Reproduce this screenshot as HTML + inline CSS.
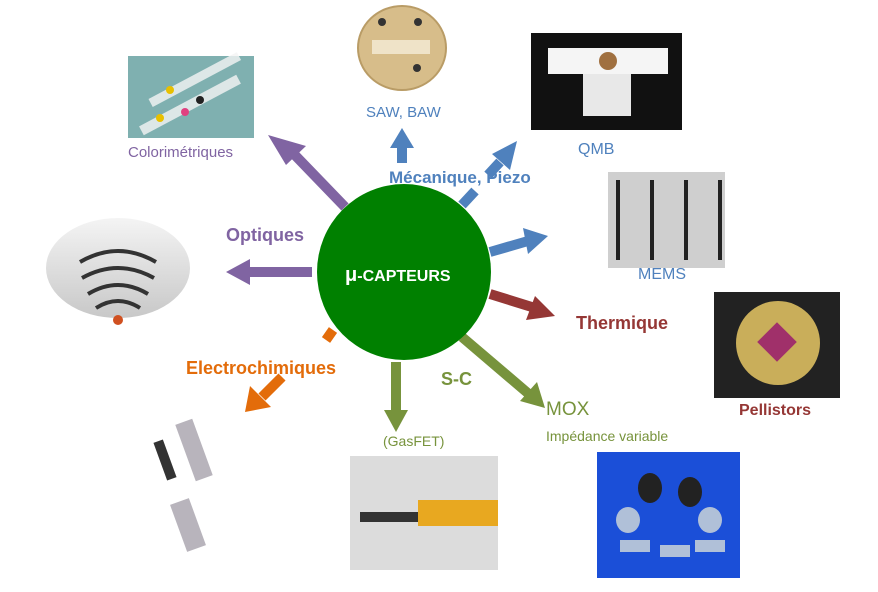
<!DOCTYPE html>
<html><head><meta charset="utf-8"><style>
body{margin:0;width:878px;height:592px;background:#fff;overflow:hidden;position:relative;font-family:"Liberation Sans","DejaVu Sans",sans-serif}
.t{position:absolute;white-space:nowrap;line-height:1}
.b{font-weight:bold}
</style></head><body>
<svg width="878" height="592" style="position:absolute;left:0;top:0">
<defs>
<linearGradient id="dome" x1="0" y1="0" x2="0" y2="1"><stop offset="0" stop-color="#f4f4f4"/><stop offset="1" stop-color="#c8c8c8"/></linearGradient>
</defs>
<rect x="128" y="56" width="126" height="82" fill="#7fb0b0"/>
<g fill="#f5f5f5" opacity=".8"><rect x="135" y="100" width="110" height="10" transform="rotate(-28 190 105)"/><rect x="145" y="75" width="100" height="9" transform="rotate(-28 195 80)"/></g>
<circle cx="160" cy="118" r="4" fill="#e8c000"/><circle cx="185" cy="112" r="4" fill="#e04080"/><circle cx="200" cy="100" r="4" fill="#222"/><circle cx="170" cy="90" r="4" fill="#e8c000"/>
<ellipse cx="402" cy="48" rx="44" ry="42" fill="#d7bd8a" stroke="#b99c66" stroke-width="2"/>
<rect x="372" y="40" width="58" height="14" fill="#efe3c8"/>
<circle cx="382" cy="22" r="4" fill="#333"/><circle cx="418" cy="22" r="4" fill="#333"/><circle cx="417" cy="68" r="4" fill="#333"/>
<rect x="531" y="33" width="151" height="97" fill="#111"/>
<rect x="548" y="48" width="120" height="26" fill="#f5f5f5"/>
<rect x="583" y="74" width="48" height="42" fill="#e8e8e8"/>
<circle cx="608" cy="61" r="9" fill="#a07040"/>
<rect x="608" y="172" width="117" height="96" fill="#cfcfcf"/>
<g fill="#222"><rect x="616" y="180" width="4" height="80"/><rect x="650" y="180" width="4" height="80"/><rect x="684" y="180" width="4" height="80"/><rect x="718" y="180" width="4" height="80"/></g>
<rect x="714" y="292" width="126" height="106" fill="#222"/>
<circle cx="778" cy="343" r="42" fill="#c9ae5a"/>
<rect x="763" y="328" width="28" height="28" fill="#a0306a" transform="rotate(45 777 342)"/>
<ellipse cx="118" cy="268" rx="72" ry="50" fill="url(#dome)"/>
<g fill="none" stroke="#333" stroke-width="4"><path d="M80 262 Q118 240 156 262"/><path d="M82 278 Q118 258 154 278"/><path d="M88 294 Q118 276 148 294"/><path d="M96 308 Q118 294 140 308"/></g>
<circle cx="118" cy="320" r="5" fill="#d05020"/>
<g fill="#b8b4bc"><rect x="185" y="420" width="18" height="60" transform="rotate(-20 194 450)"/><rect x="178" y="500" width="20" height="50" transform="rotate(-20 188 525)"/><rect x="160" y="440" width="10" height="40" fill="#333" transform="rotate(-20 165 460)"/></g>
<rect x="350" y="456" width="148" height="114" fill="#dcdcdc"/>
<rect x="360" y="512" width="60" height="10" fill="#333"/>
<rect x="418" y="500" width="80" height="26" fill="#e8a820"/>
<rect x="597" y="452" width="143" height="126" fill="#1b4fd8"/>
<g fill="#222"><ellipse cx="650" cy="488" rx="12" ry="15"/><ellipse cx="690" cy="492" rx="12" ry="15"/></g>
<g fill="#b0c0d8"><ellipse cx="628" cy="520" rx="12" ry="13"/><ellipse cx="710" cy="520" rx="12" ry="13"/><rect x="620" y="540" width="30" height="12"/><rect x="660" y="545" width="30" height="12"/><rect x="695" y="540" width="30" height="12"/></g>
<g stroke-width="10" fill="none" stroke-linecap="butt">
<line x1="345" y1="207" x2="290" y2="150" stroke="#8064a2"/>
<line x1="312" y1="272" x2="245" y2="272" stroke="#8064a2"/>
<line x1="402" y1="163" x2="402" y2="145" stroke="#4f81bd"/>
<line x1="462" y1="205" x2="475" y2="191" stroke="#4f81bd"/>
<line x1="490" y1="252" x2="528" y2="241" stroke="#4f81bd"/>
<line x1="490" y1="294" x2="535" y2="308" stroke="#953735"/>
<line x1="462" y1="337" x2="530" y2="395" stroke="#77933c"/>
<line x1="396" y1="362" x2="396" y2="415" stroke="#77933c"/>
<line x1="333" y1="330" x2="326" y2="340" stroke="#e36c0a"/>
<line x1="282" y1="377" x2="262" y2="397" stroke="#e36c0a"/>
</g>
<polygon points="268,135 306,146 286,165" fill="#8064a2"/>
<polygon points="226,272 250,259 250,285" fill="#8064a2"/>
<polygon points="402,128 390,148 414,148" fill="#4f81bd"/>
<polygon points="517,141 510,170 492,154" fill="#4f81bd"/><line x1="500" y1="162" x2="488" y2="175" stroke="#4f81bd" stroke-width="10"/>
<polygon points="548,236 523,228 528,254" fill="#4f81bd"/>
<polygon points="555,316 535,296 526,320" fill="#953735"/>
<polygon points="545,408 537,382 520,401" fill="#77933c"/>
<polygon points="396,432 384,410 408,410" fill="#77933c"/>
<polygon points="245,412 250,386 271,407" fill="#e36c0a"/>
<ellipse cx="404" cy="272" rx="87" ry="88" fill="#008000"/>
</svg>
<div class="t" style="left:128px;top:145px;font-size:15px;color:#8064a2">Colorimétriques</div>
<div class="t" style="left:366px;top:105px;font-size:15px;color:#4f81bd">SAW, BAW</div>
<div class="t" style="left:578px;top:142px;font-size:16px;color:#4f81bd">QMB</div>
<div class="t b" style="left:389px;top:169px;font-size:17px;color:#4f81bd">Mécanique, Piezo</div>
<div class="t" style="left:638px;top:267px;font-size:16px;color:#4f81bd">MEMS</div>
<div class="t b" style="left:226px;top:226px;font-size:18px;color:#8064a2">Optiques</div>
<div class="t b" style="left:345px;top:265px;font-size:16px;color:#fff"><span style="font-size:20px">μ</span>-CAPTEURS</div>
<div class="t b" style="left:576px;top:314px;font-size:18px;color:#953735">Thermique</div>
<div class="t b" style="left:739px;top:403px;font-size:16px;color:#953735">Pellistors</div>
<div class="t b" style="left:186px;top:359px;font-size:18px;color:#e36c0a">Electrochimiques</div>
<div class="t b" style="left:441px;top:370px;font-size:18px;color:#77933c">S-C</div>
<div class="t" style="left:546px;top:400px;font-size:19px;color:#77933c">MOX</div>
<div class="t" style="left:546px;top:429px;font-size:14px;color:#77933c">Impédance variable</div>
<div class="t" style="left:383px;top:434px;font-size:14px;color:#77933c">(GasFET)</div>
</body></html>
